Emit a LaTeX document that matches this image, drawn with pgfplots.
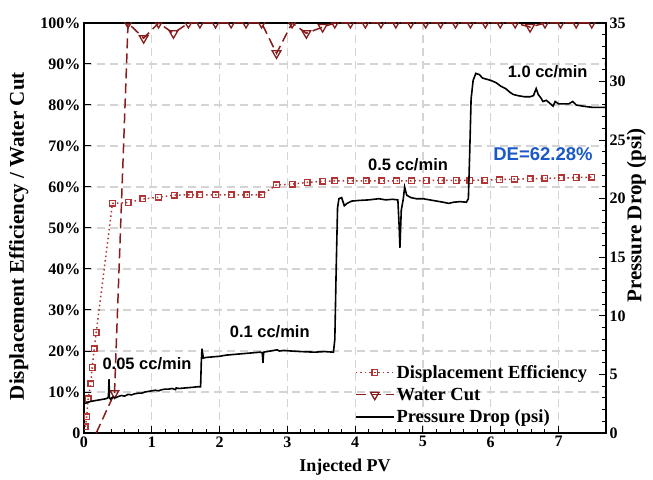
\documentclass[border=0pt]{standalone}
\usepackage{fontspec}
\setmainfont{Liberation Serif}
\newfontfamily\arialfont{Liberation Sans}
\usepackage{pgfplots}
\pgfplotsset{compat=1.18}
\definecolor{DEred}{RGB}{178,52,52}
\definecolor{WCred}{RGB}{135,28,28}
\definecolor{DEblue}{RGB}{25,90,200}
\definecolor{GridGray}{RGB}{212,212,212}

\pgfplotsset{
    common/.style={
        width=522bp, height=410bp, scale only axis,
        at={(0,0)}, anchor=south west,
        xmin=0, xmax=7.7,
        tick align=inside,
        major tick length=7bp, minor tick length=4bp,
        axis line style={line width=1.3bp},
        every tick/.style={line width=1bp, black},
        /pgf/number format/assume math mode=true,
        tick label style={font=\fontsize{16bp}{18bp}\selectfont\bfseries},
        label style={font=\fontsize{21bp}{24bp}\selectfont\bfseries},
    },
}
\tikzset{cclabel/.style={font=\arialfont\fontsize{16.5bp}{18bp}\selectfont\bfseries}}

\begin{document}
\begin{tikzpicture}
\useasboundingbox (-84bp,-47bp) rectangle (569bp,433bp);
\begin{axis}[
    common,
    ymin=0, ymax=100,
    ytick={0,10,...,100},
    yticklabels={0,10\%,20\%,30\%,40\%,50\%,60\%,70\%,80\%,90\%,100\%},
    xtick={0,1,...,7}, minor x tick num=4,
    xtick pos=left, ytick pos=left,
    grid=major,
    major grid style={GridGray, line width=1.2bp, dash pattern=on 8bp off 5bp},
    clip marker paths=true,
    xlabel={Injected PV},
    ylabel={Displacement Efficiency / Water Cut},
    xlabel style={at={(axis description cs:0.5,-0.083)}, anchor=center, font=\fontsize{18bp}{20bp}\selectfont\bfseries},
    ylabel style={at={(axis description cs:-0.125,0.48)}, anchor=center},
]
% displacement efficiency
\addplot[DEred, line width=1.5bp, dash pattern=on 1.5bp off 3bp,
    mark=square, mark size=2.8bp, mark options={solid, line width=1.4bp, fill=white}]
    coordinates {
    (0.02,1.5) (0.04,4) (0.06,8.3) (0.10,12) (0.12,16) (0.15,20.5) (0.18,24.5)
    (0.42,56) (0.65,56.2) (0.87,57.1) (1.10,57.5) (1.33,58) (1.56,58.1) (1.71,58.1)
    (1.94,58.1) (2.17,58.1) (2.40,58.1) (2.62,58.1) (2.84,60.5) (3.07,60.7)
    (3.29,61.1) (3.52,61.4) (3.70,61.5) (3.93,61.5) (4.16,61.5) (4.39,61.5)
    (4.61,61.5) (4.83,61.5) (5.05,61.6) (5.27,61.6) (5.49,61.6) (5.69,61.6)
    (5.91,61.7) (6.13,61.8) (6.35,61.9) (6.58,62.0) (6.80,62.1) (7.04,62.2)
    (7.26,62.3) (7.49,62.4)
    };
% water cut, first rise without marker
\addplot[WCred, line width=1.5bp, dash pattern=on 10bp off 5bp, forget plot]
    coordinates {(0.18,0) (0.45,9.7)};
\addplot[WCred, line width=1.5bp, dash pattern=on 10bp off 5bp,
    mark=triangle, mark size=5bp, mark options={solid, rotate=180, line width=1.3bp, fill=white}]
    coordinates {
    (0.45,9.7) (0.65,100) (0.88,96.3) (1.10,100) (1.32,97.5) (1.54,100) (1.71,100)
    (1.94,100) (2.17,100) (2.39,100) (2.62,100) (2.84,92.6) (3.07,100) (3.28,97.5)
    (3.52,99) (3.70,100) (3.93,100) (4.15,100) (4.38,100) (4.60,100) (4.82,100)
    (5.04,100) (5.26,100) (5.48,100) (5.70,100) (5.92,100) (6.14,100) (6.36,100)
    (6.58,99) (6.80,100) (7.03,100) (7.26,100) (7.49,100)
    };
\node[cclabel] at (axis cs:0.93,17) {0.05 cc/min};
\node[cclabel] at (axis cs:2.74,24.7) {0.1 cc/min};
\node[cclabel] at (axis cs:4.78,65.5) {0.5 cc/min};
\node[cclabel] at (axis cs:6.84,88.1) {1.0 cc/min};
\node[font=\arialfont\fontsize{18.5bp}{20bp}\selectfont\bfseries, text=DEblue]
    at (axis cs:6.77,68) {DE=62.28\%};
\end{axis}

\begin{axis}[
    common,
    ymin=0, ymax=35,
    ytick={0,5,...,35}, minor y tick num=4,
    axis x line=none, axis y line*=right, ytick pos=right,
    ylabel={Pressure Drop (psi)},
    ylabel style={at={(axis description cs:1.058,0.53)}, anchor=center},
    legend style={at={(0.513,0.012)}, anchor=south west, draw=none, fill=none,
        font=\fontsize{18.5bp}{20bp}\selectfont\bfseries, row sep=4bp},
    legend cell align=left,
    legend image code/.code={\draw[mark repeat=2, mark phase=2, #1]
        plot coordinates {(0bp,0bp) (19bp,0bp) (38bp,0bp)};},
]
\addlegendimage{DEred, line width=1.5bp, dash pattern=on 1.5bp off 3bp,
    mark=square, mark size=2.8bp, mark options={solid, line width=1.4bp, fill=white}}
\addlegendimage{WCred, line width=1.5bp, dash pattern=on 10bp off 5bp,
    mark=triangle, mark size=5bp, mark options={solid, rotate=180, line width=1.3bp, fill=white}}
\addplot[black, line width=1.6bp] coordinates {
    (0.00,2.5) (0.05,2.6) (0.10,2.7) (0.15,2.75) (0.20,2.8) (0.25,2.85) (0.30,2.9)
    (0.34,2.95) (0.36,3.1) (0.37,4.6) (0.375,3.0) (0.39,2.9) (0.42,3.05) (0.46,3.0)
    (0.50,3.1) (0.55,3.2) (0.60,3.15) (0.65,3.3) (0.70,3.25) (0.75,3.35) (0.80,3.4)
    (0.85,3.4) (0.90,3.5) (0.95,3.55) (1.00,3.6) (1.05,3.65) (1.10,3.6) (1.15,3.7)
    (1.20,3.75) (1.25,3.75) (1.30,3.8) (1.35,3.7) (1.36,3.85) (1.40,3.8) (1.50,3.85)
    (1.60,3.9) (1.68,3.95) (1.72,3.95) (1.73,6.0) (1.74,7.2) (1.76,6.4) (1.80,6.45)
    (1.90,6.5) (2.00,6.55) (2.10,6.65) (2.20,6.7) (2.30,6.75) (2.40,6.8) (2.50,6.85)
    (2.60,6.9) (2.63,6.85) (2.64,6.0) (2.65,6.9) (2.70,6.95) (2.75,7.0) (2.80,7.05)
    (2.85,7.1) (2.88,7.0) (2.95,7.05) (3.05,7.0) (3.20,6.95) (3.40,6.9) (3.55,6.95)
    (3.68,6.9) (3.70,8.0) (3.72,14.0) (3.74,19.2) (3.76,20.0) (3.80,20.1) (3.84,19.4)
    (3.88,19.6) (3.95,19.8) (4.05,19.85) (4.20,19.9) (4.35,20.0) (4.45,19.9)
    (4.55,19.95) (4.63,19.9) (4.65,17.5) (4.66,15.8) (4.68,19.0) (4.71,20.0)
    (4.73,21.0) (4.76,20.3) (4.82,20.1) (4.90,20.0) (5.00,20.0) (5.10,19.9)
    (5.20,19.8) (5.30,19.7) (5.38,19.6) (5.45,19.7) (5.55,19.75) (5.64,19.7)
    (5.67,20.0) (5.69,24.0) (5.71,28.5) (5.74,30.1) (5.78,30.7) (5.83,30.6)
    (5.88,30.3) (5.94,30.2) (6.00,30.1) (6.08,29.9) (6.15,29.6) (6.22,29.4)
    (6.28,29.1) (6.33,28.9) (6.40,28.8) (6.50,28.7) (6.58,28.7) (6.63,28.8)
    (6.67,29.4) (6.70,28.9) (6.74,28.6) (6.77,28.3) (6.82,28.4) (6.88,28.1)
    (6.92,27.9) (6.95,28.3) (7.00,28.1) (7.07,28.1) (7.15,28.1) (7.21,28.3)
    (7.26,28.0) (7.36,27.9) (7.50,27.8) (7.70,27.8)
};
\legend{Displacement Efficiency, Water Cut, Pressure Drop (psi)}
\end{axis}
\end{tikzpicture}
\end{document}
